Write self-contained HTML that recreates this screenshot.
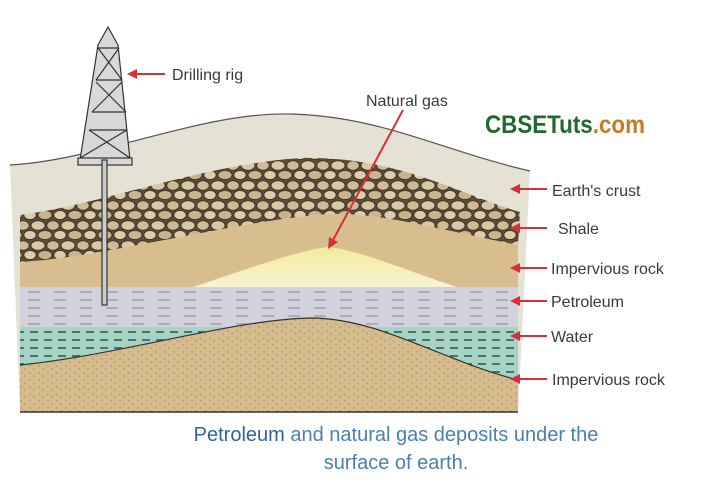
<!DOCTYPE html>
<html><head><meta charset="utf-8"><style>
html,body{margin:0;padding:0;background:#fff;}
body{width:720px;height:480px;overflow:hidden;font-family:"Liberation Sans",sans-serif;}
</style></head><body>
<svg width="720" height="480" viewBox="0 0 720 480" xmlns="http://www.w3.org/2000/svg">
<defs>
<pattern id="stones" width="30" height="20" patternUnits="userSpaceOnUse">
<rect width="30" height="20" fill="#5e4c36"/>
<ellipse cx="8" cy="5.5" rx="7" ry="4.8" fill="#d8c8a6" stroke="#3d3225" stroke-width="0.9"/>
<ellipse cx="23" cy="5.5" rx="6.2" ry="4.8" fill="#cfbc97" stroke="#3d3225" stroke-width="0.9"/>
<ellipse cx="0" cy="15" rx="6.2" ry="4.6" fill="#dccdac" stroke="#3d3225" stroke-width="0.9"/>
<ellipse cx="15" cy="15" rx="7" ry="4.6" fill="#c9b48e" stroke="#3d3225" stroke-width="0.9"/>
<ellipse cx="30" cy="15" rx="6.2" ry="4.6" fill="#dccdac" stroke="#3d3225" stroke-width="0.9"/>
</pattern>
<pattern id="pdash" width="26" height="8" patternUnits="userSpaceOnUse">
<rect width="26" height="8" fill="#d3d1dc"/>
<line x1="2" y1="4" x2="14" y2="4" stroke="#9a98a8" stroke-width="1.3"/>
</pattern>
<pattern id="wdash" width="14" height="8" patternUnits="userSpaceOnUse">
<rect width="14" height="8" fill="#a5d3c6"/>
<line x1="2" y1="4" x2="10" y2="4" stroke="#3f5650" stroke-width="1.6"/>
</pattern>
<pattern id="dots" width="9" height="7" patternUnits="userSpaceOnUse">
<rect width="9" height="7" fill="#d6bb8d"/>
<circle cx="3" cy="2" r="0.6" fill="#8a7250"/>
<circle cx="7" cy="5" r="0.6" fill="#8a7250"/>
</pattern>
<linearGradient id="gas" x1="0" y1="0" x2="0" y2="1">
<stop offset="0" stop-color="#f2ec9a"/><stop offset="1" stop-color="#f7f3d2"/>
</linearGradient>
</defs>
<!-- crust -->
<path d="M10,165 C100,160 200,112 290,114 C380,116 440,150 530,171 L518,412 L20,412 Z" fill="#e5e1d4"/>
<path d="M10,165 C100,160 200,112 290,114 C380,116 440,150 530,171" fill="none" stroke="#555" stroke-width="1.2"/>
<!-- tan impervious -->
<path d="M20,262 C100,258 250,218 330,214 C380,212 450,232 518,245 L518,292 L20,292 Z" fill="#d8be8e"/>
<!-- gas -->
<path d="M190,288 C250,268 300,250 328,247 C360,250 410,272 460,288 Z" fill="url(#gas)"/>
<!-- shale -->
<path d="M20,215 C100,205 200,165 300,158 C400,156 460,195 520,212 L518,245 C450,232 380,212 330,214 C250,218 100,258 20,262 Z" fill="url(#stones)"/>
<!-- petroleum -->
<rect x="20" y="287" width="498" height="40" fill="url(#pdash)"/>
<!-- water -->
<rect x="20" y="327" width="498" height="50" fill="url(#wdash)"/>
<!-- bottom impervious -->
<path d="M20,365 C120,355 230,320 310,318 C380,318 440,360 518,380 L518,412 L20,412 Z" fill="url(#dots)"/>
<path d="M20,365 C120,355 230,320 310,318 C380,318 440,360 518,380" fill="none" stroke="#333" stroke-width="1.2"/>
<line x1="20" y1="412" x2="518" y2="412" stroke="#333" stroke-width="1.5"/>
<!-- rig -->
<g stroke="#333" stroke-width="1.2" fill="#d8d8d8">
<path d="M108,27 L98,45 L80,160 L130,160 L118,45 Z"/>
<line x1="98" y1="48" x2="119" y2="48"/><line x1="96" y1="80" x2="122" y2="80"/>
<line x1="92" y1="112" x2="126" y2="112"/><line x1="89" y1="130" x2="127" y2="130"/>
<line x1="98" y1="48" x2="122" y2="80"/><line x1="119" y1="48" x2="96" y2="80"/>
<line x1="96" y1="82" x2="126" y2="112"/><line x1="122" y1="82" x2="92" y2="112"/>
<line x1="89" y1="130" x2="130" y2="158"/><line x1="127" y1="130" x2="80" y2="158"/>
<rect x="78" y="158" width="54" height="7"/>
<rect x="102" y="160" width="5" height="145" fill="#ccc"/>
</g>
<!-- arrows -->
<g stroke="#d6303a" stroke-width="2" fill="#d6303a">
<line x1="165" y1="74" x2="134" y2="74"/><path d="M127,74 L137,69 L137,79 Z" stroke="none"/>
<line x1="403" y1="110" x2="332" y2="242"/><path d="M328,249 L329,237 L338,242 Z" stroke="none"/>
<line x1="547" y1="189" x2="518" y2="189"/><path d="M510,189 L520,184 L520,194 Z" stroke="none"/>
<line x1="547" y1="228" x2="518" y2="228"/><path d="M510,228 L520,223 L520,233 Z" stroke="none"/>
<line x1="547" y1="268" x2="518" y2="268"/><path d="M510,268 L520,263 L520,273 Z" stroke="none"/>
<line x1="547" y1="301" x2="518" y2="301"/><path d="M510,301 L520,296 L520,306 Z" stroke="none"/>
<line x1="547" y1="336" x2="518" y2="336"/><path d="M510,336 L520,331 L520,341 Z" stroke="none"/>
<line x1="547" y1="379" x2="518" y2="379"/><path d="M510,379 L520,374 L520,384 Z" stroke="none"/>
</g>
<g fill="#3a3a3a" font-family="Liberation Sans, sans-serif" font-size="16">
<text x="172" y="80">Drilling rig</text>
<text x="366" y="106">Natural gas</text>
<text x="552" y="196">Earth's crust</text>
<text x="558" y="234">Shale</text>
<text x="551" y="274">Impervious rock</text>
<text x="551" y="307">Petroleum</text>
<text x="551" y="342">Water</text>
<text x="552" y="385">Impervious rock</text>
</g>
<text x="485" y="133" font-family="Liberation Sans, sans-serif" font-size="25" font-weight="bold" textLength="160" lengthAdjust="spacingAndGlyphs"><tspan fill="#1f6a2c">CBSETuts</tspan><tspan fill="#c87a22">.com</tspan></text>
<g font-family="Liberation Sans, sans-serif" font-size="20" fill="#4a7fb2" text-anchor="middle">
<text x="396" y="441"><tspan fill="#2f62a0">Petroleum</tspan> and natural gas deposits under the</text>
<text x="396" y="469">surface of earth.</text>
</g>
</svg>
</body></html>
